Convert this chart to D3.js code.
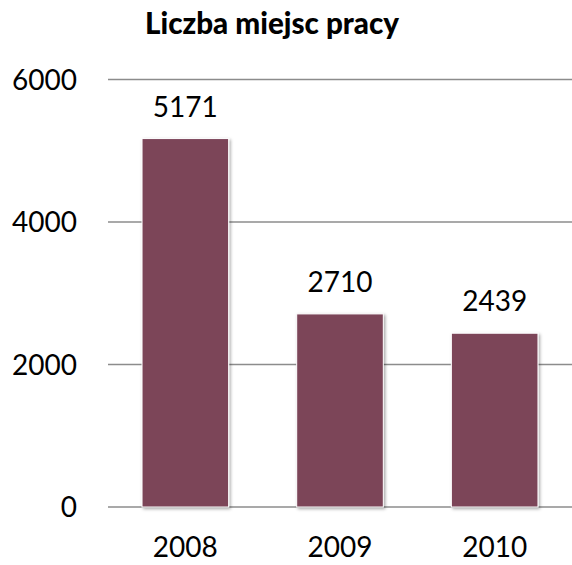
<!DOCTYPE html>
<html>
<head>
<meta charset="utf-8">
<script src="https://cdn.jsdelivr.net/npm/d3@7"></script>
<style>
  body { margin: 0; background: #fff; }
  svg text { font-family: Lato, "Open Sans", sans-serif; fill: #000; }
</style>
</head>
<body>
<div class="chart"></div>
<script>
const chartTitle = "Liczba miejsc pracy";
const years = ["2008", "2009", "2010"];
const jobs = [5171, 2710, 2439];
const yTicks = [0, 2000, 4000, 6000];

const width = 572;
const height = 565;
const margin = { top: 79.5, right: 0, bottom: 58, left: 108 };

const svg = d3.select(".chart")
    .append("svg")
    .attr("width", width)
    .attr("height", height);

// cień słupków
const defs = svg.append("defs");
defs.append("filter")
    .attr("id", "shadow")
    .attr("x", "-20%").attr("y", "-20%")
    .attr("width", "140%").attr("height", "140%")
    .append("feDropShadow")
    .attr("dx", 1.5)
    .attr("dy", 1.5)
    .attr("stdDeviation", 1.5)
    .attr("flood-color", "#000")
    .attr("flood-opacity", 0.35);

const x = d3.scaleBand()
    .domain(years)
    .range([margin.left, width - margin.right])
    .paddingInner(0.44)
    .paddingOuter(0.22);

const y = d3.scaleLinear()
    .domain([0, 6000])
    .range([height - margin.bottom, margin.top]);

// Siatka
svg.append("g")
    .selectAll("line")
    .data(yTicks)
    .enter()
    .append("line")
    .attr("x1", margin.left)
    .attr("x2", width - margin.right)
    .attr("y1", d => y(d))
    .attr("y2", d => y(d))
    .attr("stroke", "#8c8c8c")
    .attr("stroke-width", 1.5);

// Etykiety osi Y
svg.append("g")
    .selectAll("text")
    .data(yTicks)
    .enter()
    .append("text")
    .attr("x", 77)
    .attr("y", d => y(d))
    .attr("dy", "0.36em")
    .attr("text-anchor", "end")
    .style("font-size", "28px")
    .text(d => d);

// Słupki
svg.append("g")
    .selectAll("rect")
    .data(jobs)
    .enter()
    .append("rect")
    .attr("x", (d, i) => x(years[i]))
    .attr("y", d => y(d))
    .attr("width", x.bandwidth())
    .attr("height", d => y(0) - y(d))
    .attr("fill", "#7b4459")
    .attr("stroke", "#fff")
    .attr("stroke-width", 1)
    .attr("filter", "url(#shadow)");

// Wartości
svg.append("g")
    .selectAll("text")
    .data(jobs)
    .enter()
    .append("text")
    .attr("x", (d, i) => x(years[i]) + x.bandwidth() / 2)
    .attr("y", d => y(d) - 22)
    .attr("text-anchor", "middle")
    .style("font-size", "28px")
    .text(d => d);

// Etykiety osi X
svg.append("g")
    .selectAll("text")
    .data(years)
    .enter()
    .append("text")
    .attr("x", d => x(d) + x.bandwidth() / 2)
    .attr("y", 557)
    .attr("text-anchor", "middle")
    .style("font-size", "28px")
    .text(d => d);

// Tytuł
svg.append("text")
    .attr("x", 272)
    .attr("y", 34)
    .attr("text-anchor", "middle")
    .style("font-size", "29.6px")
    .style("font-weight", "900")
    .text(chartTitle);
</script>
</body>
</html>
